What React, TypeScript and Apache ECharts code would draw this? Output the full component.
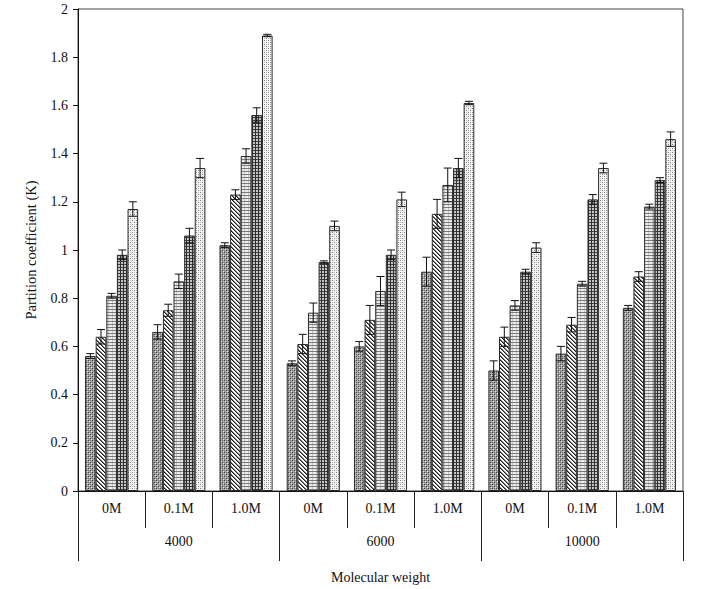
import React, { useEffect, useRef } from "react";
import * as echarts from "echarts";

const groups = ["4000", "6000", "10000"];
const salts = ["0M", "0.1M", "1.0M"];
const categories = groups.flatMap((g) => salts.map((s) => g + "|" + s));

const yTicks = { min: 0, max: 2, interval: 0.2 };

const s1 = [0.56, 0.66, 1.02, 0.53, 0.6, 0.91, 0.5, 0.57, 0.76];
const s2 = [0.64, 0.75, 1.23, 0.61, 0.71, 1.15, 0.64, 0.69, 0.89];
const s3 = [0.81, 0.87, 1.39, 0.74, 0.83, 1.27, 0.77, 0.86, 1.18];
const s4 = [0.98, 1.06, 1.56, 0.95, 0.98, 1.34, 0.91, 1.21, 1.29];
const s5 = [1.17, 1.34, 1.89, 1.1, 1.21, 1.61, 1.01, 1.34, 1.46];

const e1 = [0.01, 0.03, 0.01, 0.01, 0.02, 0.06, 0.04, 0.03, 0.01];
const e2 = [0.03, 0.025, 0.02, 0.04, 0.06, 0.06, 0.04, 0.03, 0.02];
const e3 = [0.01, 0.03, 0.03, 0.04, 0.06, 0.07, 0.02, 0.01, 0.01];
const e4 = [0.02, 0.03, 0.03, 0.005, 0.02, 0.04, 0.01, 0.02, 0.01];
const e5 = [0.03, 0.04, 0.005, 0.02, 0.03, 0.007, 0.02, 0.02, 0.03];

const seriesValues = [s1, s2, s3, s4, s5];
const seriesErrors = [e1, e2, e3, e4, e5];

const FONT = "'Liberation Serif', 'Times New Roman', serif";
const BAR_FRAC = 0.158;

type Px = [number, number, string];

function makePattern(w: number, h: number, bg: string, pixels: Px[]) {
  const c = document.createElement("canvas");
  c.width = w;
  c.height = h;
  const ctx = c.getContext("2d")!;
  ctx.fillStyle = bg;
  ctx.fillRect(0, 0, w, h);
  for (const [x, y, col] of pixels) {
    ctx.fillStyle = col;
    ctx.fillRect(x, y, 1, 1);
  }
  return { image: c, repeat: "repeat", imageWidth: w, imageHeight: h } as any;
}

function buildPatterns() {
  const p1 = makePattern(4, 4, "#a4a4a4", [
    [0, 0, "#3a3a3a"],
    [2, 2, "#3a3a3a"],
    [2, 0, "#707070"],
    [0, 2, "#707070"],
    [1, 1, "#dcdcdc"],
    [3, 3, "#dcdcdc"],
  ]);
  const p2 = makePattern(4, 4, "#ffffff", [
    [0, 0, "#1e1e1e"],
    [1, 1, "#1e1e1e"],
    [2, 2, "#1e1e1e"],
    [3, 3, "#1e1e1e"],
    [1, 0, "#7a7a7a"],
    [2, 1, "#7a7a7a"],
    [3, 2, "#7a7a7a"],
    [0, 3, "#7a7a7a"],
  ]);
  const p3px: Px[] = [];
  for (let x = 0; x < 4; x++) p3px.push([x, 0, "#7c7c7c"]);
  p3px.push([0, 1, "#c8c8c8"], [0, 2, "#c8c8c8"]);
  const p3 = makePattern(4, 3, "#ececec", p3px);
  const p4px: Px[] = [];
  for (let x = 0; x < 3; x++) p4px.push([x, 0, "#404040"]);
  for (let y = 0; y < 3; y++) p4px.push([0, y, "#2e2e2e"]);
  const p4 = makePattern(3, 3, "#c4c4c4", p4px);
  const p5 = makePattern(4, 4, "#f4f4f4", [
    [0, 0, "#808080"],
    [2, 2, "#808080"],
    [2, 0, "#c0c0c0"],
    [0, 2, "#c0c0c0"],
  ]);
  return [p1, p2, p3, p4, p5];
}

export default function App() {
  const ref = useRef<HTMLDivElement>(null);

  useEffect(() => {
    document.body.style.margin = "0";
    if (!ref.current) return;
    const chart = echarts.init(ref.current, undefined, { renderer: "svg" });
    const patterns = buildPatterns();

    const barSeries = seriesValues.map((vals, i) => ({
      type: "bar",
      name: "Series " + (i + 1),
      xAxisIndex: 0,
      yAxisIndex: 0,
      data: vals,
      barWidth: BAR_FRAC * 100 + "%",
      barGap: "0%",
      itemStyle: {
        color: patterns[i],
        borderColor: "#2a2a2a",
        borderWidth: 1,
      },
      z: 2,
    }));

    const errSeries = seriesValues.map((vals, i) => ({
      type: "custom",
      name: "Error " + (i + 1),
      xAxisIndex: 0,
      yAxisIndex: 0,
      data: vals.map((v, k) => [k, v, seriesErrors[i][k]]),
      z: 5,
      silent: true,
      renderItem: (params: any, api: any) => {
        const idx = api.value(0);
        const v = api.value(1);
        const err = api.value(2);
        const band = api.size([1, 0])[0];
        const w = band * BAR_FRAC;
        const base = api.coord([idx, v]);
        const cx = base[0] + (i - 2) * w;
        const yTop = api.coord([idx, v + err])[1];
        const yBot = api.coord([idx, v - err])[1];
        const cap = 4;
        const style = { stroke: "#111", lineWidth: 1, fill: "none" };
        return {
          type: "group",
          children: [
            { type: "line", shape: { x1: cx, y1: yTop, x2: cx, y2: yBot }, style },
            { type: "line", shape: { x1: cx - cap, y1: yTop, x2: cx + cap, y2: yTop }, style },
            { type: "line", shape: { x1: cx - cap, y1: yBot, x2: cx + cap, y2: yBot }, style },
          ],
        };
      },
    }));

    chart.setOption({
      animation: false,
      backgroundColor: "#ffffff",
      textStyle: { fontFamily: FONT },
      grid: {
        left: 78,
        right: 23,
        top: 9,
        bottom: 96,
        show: true,
        borderColor: "#444",
        borderWidth: 1,
        backgroundColor: "transparent",
      },
      xAxis: [
        {
          type: "category",
          data: categories,
          position: "bottom",
          boundaryGap: true,
          axisLine: { show: true, lineStyle: { color: "#111", width: 1 } },
          axisTick: { show: true, interval: 0, length: 37, lineStyle: { color: "#222" } },
          axisLabel: {
            interval: 0,
            margin: 10,
            fontFamily: FONT,
            fontSize: 14,
            color: "#111",
            formatter: (v: string) => v.split("|")[1],
          },
          splitLine: { show: false },
        },
        {
          type: "category",
          data: groups,
          position: "bottom",
          offset: 0,
          boundaryGap: true,
          axisLine: { show: false },
          axisTick: { show: true, interval: 0, length: 70, lineStyle: { color: "#222" } },
          axisLabel: {
            interval: 0,
            margin: 43,
            fontFamily: FONT,
            fontSize: 14,
            color: "#111",
          },
          name: "Molecular weight",
          nameLocation: "middle",
          nameGap: 79,
          nameTextStyle: { fontFamily: FONT, fontSize: 14, color: "#111" },
          splitLine: { show: false },
        },
      ],
      yAxis: {
        type: "value",
        min: yTicks.min,
        max: yTicks.max,
        interval: yTicks.interval,
        axisLine: { show: true, lineStyle: { color: "#111", width: 1 } },
        axisTick: { show: true, length: 5, lineStyle: { color: "#111" } },
        axisLabel: {
          margin: 10,
          fontFamily: FONT,
          fontSize: 14,
          color: "#111",
        },
        splitLine: { show: false },
        name: "Partition coefficient (K)",
        nameLocation: "middle",
        nameGap: 40,
        nameRotate: 90,
        nameTextStyle: { fontFamily: FONT, fontSize: 14.5, color: "#111" },
      },
      series: [...barSeries, ...errSeries],
    });

    return () => {
      chart.dispose();
    };
  }, []);

  return <div ref={ref} style={{ width: 706, height: 589 }} />;
}
